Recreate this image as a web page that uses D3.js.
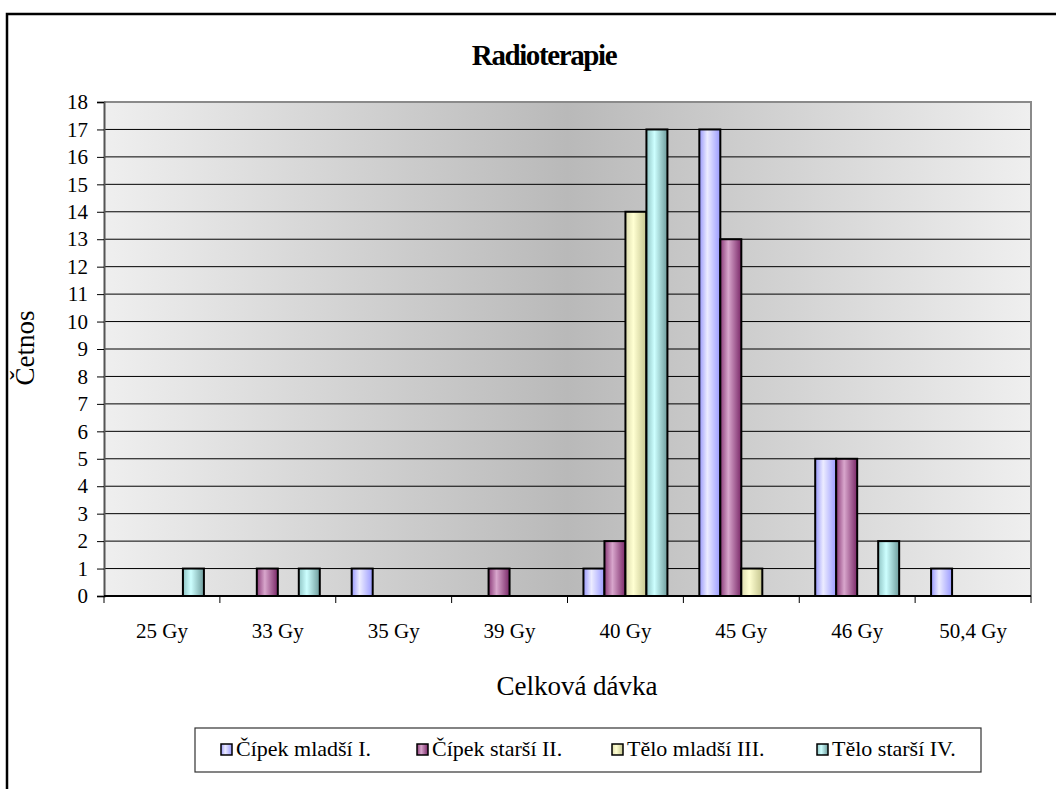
<!DOCTYPE html>
<html>
<head>
<meta charset="utf-8">
<script src="https://cdn.jsdelivr.net/npm/d3@7"></script>
<style>
  html, body { margin: 0; padding: 0; background: #fff; }
  svg { display: block; }
</style>
</head>
<body>
<svg id="chart" width="1056" height="789"></svg>
<script>
// Dose categories and per-series counts
const categories = ["25 Gy", "33 Gy", "35 Gy", "39 Gy", "40 Gy", "45 Gy", "46 Gy", "50,4 Gy"];
const seriesNames = ["Čípek mladší I.", "Čípek starší II.", "Tělo mladší III.", "Tělo starší IV."];
const cipekMladsi = [0, 0, 1, 0, 1, 17, 5, 1];
const cipekStarsi = [0, 1, 0, 1, 2, 13, 5, 0];
const teloMladsi  = [0, 0, 0, 0, 14, 1, 0, 0];
const teloStarsi  = [1, 1, 0, 0, 17, 0, 2, 0];
const yTicks = d3.range(0, 19);

const seriesValues = [cipekMladsi, cipekStarsi, teloMladsi, teloStarsi];
const SERIF = "'Liberation Serif', 'Times New Roman', serif";
// edge / highlight colours for each series' shaded fill
const seriesFill = [
  { edgeL: "#9797fb", mid: "#ececff", edgeR: "#9a9aff" },
  { edgeL: "#8a3a78", mid: "#d8a6cc", edgeR: "#7a2868" },
  { edgeL: "#dcdcae", mid: "#ffffd2", edgeR: "#c4c48e" },
  { edgeL: "#8fc4c4", mid: "#cdffff", edgeR: "#6e9c9c" }
];

const svg = d3.select("#chart");
const defs = svg.append("defs");

// Plot-area background: light at the sides, darker toward the middle
const bg = defs.append("linearGradient").attr("id", "plotBg")
  .attr("x1", "0").attr("y1", "0").attr("x2", "1").attr("y2", "0");
bg.append("stop").attr("offset", "0%").attr("stop-color", "#efefef");
bg.append("stop").attr("offset", "50%").attr("stop-color", "#b9b9b9");
bg.append("stop").attr("offset", "100%").attr("stop-color", "#efefef");

seriesFill.forEach((c, i) => {
  const g = defs.append("linearGradient").attr("id", "barFill" + i)
    .attr("x1", "0").attr("y1", "0").attr("x2", "1").attr("y2", "0");
  g.append("stop").attr("offset", "0%").attr("stop-color", c.edgeL);
  g.append("stop").attr("offset", "38%").attr("stop-color", c.mid);
  g.append("stop").attr("offset", "100%").attr("stop-color", c.edgeR);
});

// Chart frame
svg.append("rect")
  .attr("x", 7).attr("y", 14).attr("width", 1070).attr("height", 800)
  .attr("fill", "#fff").attr("stroke", "#000").attr("stroke-width", 2.5);

const plot = { left: 104, right: 1031, top: 102, bottom: 596 };

const x = d3.scaleBand().domain(categories).range([plot.left, plot.right]).padding(0);
const xs = d3.scaleBand().domain(d3.range(seriesNames.length))
  .range([0, x.bandwidth()]).paddingInner(0).paddingOuter(0.76);
const y = d3.scaleLinear().domain([0, 18]).range([plot.bottom, plot.top]);

// Background
svg.append("rect")
  .attr("x", plot.left).attr("y", plot.top)
  .attr("width", plot.right - plot.left).attr("height", plot.bottom - plot.top)
  .attr("fill", "url(#plotBg)");

// Horizontal gridlines
svg.append("g").selectAll("line")
  .data(yTicks.filter(t => t > 0 && t < 18))
  .join("line")
  .attr("x1", plot.left).attr("x2", plot.right)
  .attr("y1", d => y(d)).attr("y2", d => y(d))
  .attr("stroke", "#000").attr("stroke-width", 1);

// Plot border (top / right)
svg.append("path")
  .attr("d", `M${plot.left},${y(18)}H${plot.right}V${plot.bottom}`)
  .attr("fill", "none").attr("stroke", "#8a8a8a").attr("stroke-width", 2);

// Bars
const groups = svg.append("g").selectAll("g")
  .data(categories)
  .join("g")
  .attr("transform", d => `translate(${x(d)},0)`);

groups.selectAll("rect")
  .data((d, ci) => seriesValues.map((vals, si) => ({ si, v: vals[ci] })).filter(e => e.v > 0))
  .join("rect")
  .attr("x", d => xs(d.si))
  .attr("width", xs.bandwidth())
  .attr("y", d => y(d.v))
  .attr("height", d => y(0) - y(d.v))
  .attr("fill", d => `url(#barFill${d.si})`)
  .attr("stroke", "#000").attr("stroke-width", 2);

// Y axis
const yAxis = d3.axisLeft(y).tickValues(yTicks).tickSize(7).tickPadding(9).tickFormat(d3.format("d"));
const yg = svg.append("g").attr("transform", `translate(${plot.left},0)`).call(yAxis)
  .attr("font-family", null).attr("font-size", null);
yg.select(".domain").attr("stroke", "#555").attr("stroke-width", 2);
yg.selectAll(".tick line").attr("stroke", "#000");
yg.selectAll(".tick text").style("font-family", SERIF).style("font-size", "21px").attr("fill", "#000");

// X axis: ticks sit between categories
const xAxis = d3.axisBottom(x).tickSize(0).tickPadding(27);
const xg = svg.append("g").attr("transform", `translate(0,${plot.bottom})`).call(xAxis)
  .attr("font-family", null).attr("font-size", null);
xg.select(".domain").remove();
xg.selectAll(".tick text").style("font-family", SERIF).style("font-size", "21px").attr("fill", "#000");
svg.append("line")
  .attr("x1", plot.left).attr("x2", plot.right)
  .attr("y1", plot.bottom).attr("y2", plot.bottom)
  .attr("stroke", "#000").attr("stroke-width", 2);
svg.append("g").selectAll("line")
  .data(categories.concat([null]))
  .join("line")
  .attr("x1", (d, i) => plot.left + i * x.step())
  .attr("x2", (d, i) => plot.left + i * x.step())
  .attr("y1", plot.bottom).attr("y2", plot.bottom + 7)
  .attr("stroke", "#000").attr("stroke-width", 1);

// Title
svg.append("text")
  .attr("x", 544).attr("y", 65)
  .attr("text-anchor", "middle")
  .style("font-family", SERIF).style("font-size", "29px").style("font-weight", "bold")
  .style("letter-spacing", "-1.4px")
  .text("Radioterapie");

// Axis titles
svg.append("text")
  .attr("transform", "translate(34,348) rotate(-90)")
  .attr("text-anchor", "middle")
  .style("font-family", SERIF).style("font-size", "27px")
  .text("Četnos");

svg.append("text")
  .attr("x", 577).attr("y", 695)
  .attr("text-anchor", "middle")
  .style("font-family", SERIF).style("font-size", "27px")
  .text("Celková dávka");

// Legend
const legend = svg.append("g");
legend.append("rect")
  .attr("x", 195).attr("y", 728).attr("width", 786).attr("height", 44)
  .attr("fill", "#fff").attr("stroke", "#333").attr("stroke-width", 1.2);
const legendX = [221, 417, 612, 817];
const items = legend.selectAll("g.item")
  .data(seriesNames)
  .join("g").attr("class", "item")
  .attr("transform", (d, i) => `translate(${legendX[i]},744)`);
items.append("rect")
  .attr("width", 11).attr("height", 11)
  .attr("fill", (d, i) => `url(#barFill${i})`)
  .attr("stroke", "#000").attr("stroke-width", 1.5);
items.append("text")
  .attr("x", 15).attr("y", 12)
  .style("font-family", SERIF).style("font-size", "22px")
  .text(d => d);
</script>
</body>
</html>
